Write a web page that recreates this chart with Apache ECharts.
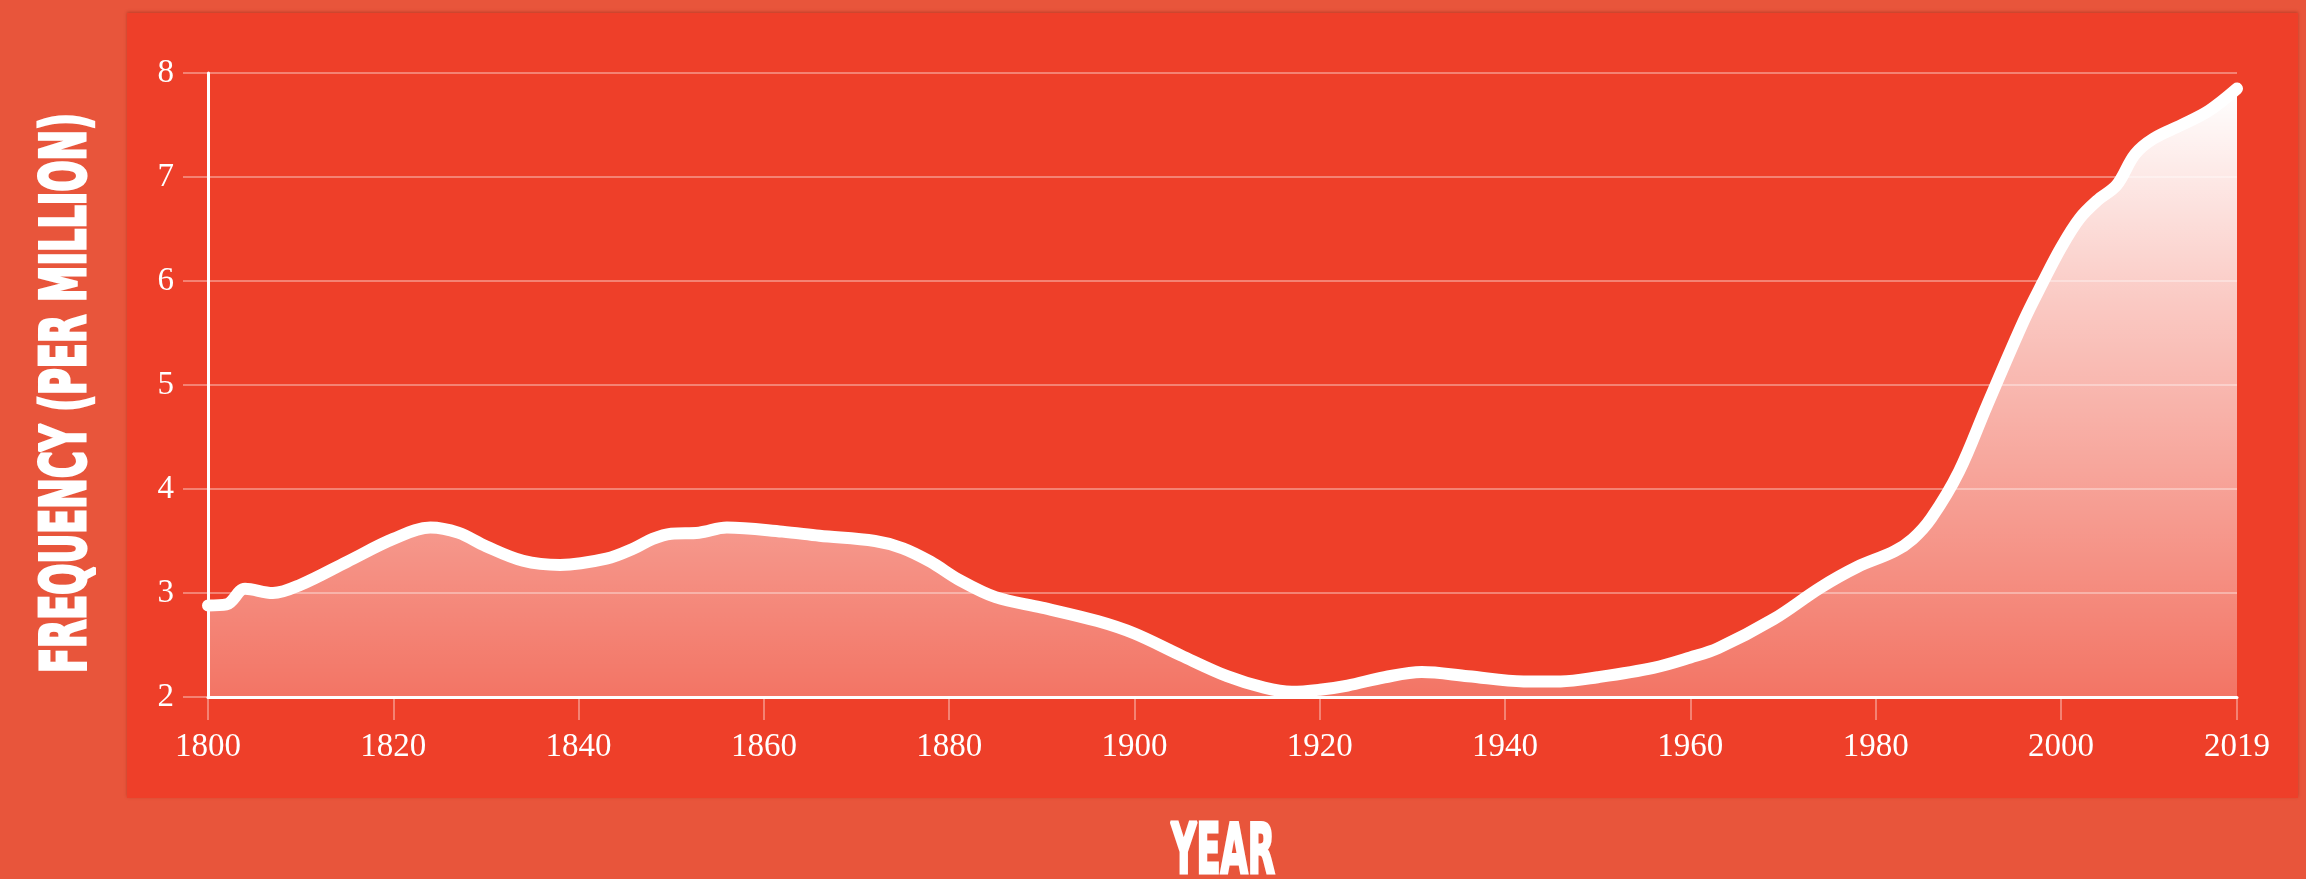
<!DOCTYPE html>
<html>
<head>
<meta charset="utf-8">
<style>
  html, body { margin: 0; padding: 0; background: #e8553b; }
  #chart-container { width: 2306px; height: 879px; }
</style>
<script src="https://cdn.jsdelivr.net/npm/echarts@6/dist/echarts.min.js"></script>
</head>
<body>
<div id="chart-container"></div>
<script>
var dom = document.getElementById("chart-container");
var myChart = echarts.init(dom, null, { renderer: "canvas" });

// frequency per million
var years = [1800, 1802, 1804, 1807, 1810, 1815, 1820, 1824, 1827, 1830, 1834, 1838,
  1843, 1846, 1848, 1850, 1853, 1856, 1862, 1866, 1872, 1875, 1878, 1881, 1885,
  1890, 1896, 1900, 1905, 1910, 1914, 1917, 1920, 1923, 1927, 1931, 1936, 1942,
  1946, 1950, 1956, 1960, 1963, 1969, 1974, 1978, 1982, 1984, 1986, 1989, 1992,
  1996, 1998, 2000, 2002, 2004, 2006, 2008, 2010, 2013, 2016, 2019];
var frequency = [2.88, 2.89, 3.04, 3.00, 3.08, 3.30, 3.52, 3.63, 3.58, 3.45, 3.31, 3.27,
  3.33, 3.43, 3.52, 3.57, 3.58, 3.63, 3.59, 3.55, 3.50, 3.43, 3.30, 3.13, 2.96,
  2.86, 2.73, 2.61, 2.40, 2.20, 2.09, 2.05, 2.07, 2.11, 2.19, 2.24, 2.20, 2.15,
  2.15, 2.19, 2.28, 2.38, 2.47, 2.75, 3.05, 3.25, 3.40, 3.52, 3.72, 4.17, 4.80,
  5.62, 5.98, 6.32, 6.60, 6.78, 6.92, 7.22, 7.37, 7.50, 7.64, 7.85];

var yTitle = "FREQUENCY (PER MILLION)";
var xTitle = "YEAR";

var seriesData = years.map(function (y, i) { return [y, frequency[i]]; });

// squeeze a bold sans into a condensed poster look
var yTitleFont = "bold 62px 'DejaVu Sans Condensed', 'DejaVu Sans', sans-serif";
var xTitleFont = "bold 70px 'DejaVu Sans Condensed', 'DejaVu Sans', sans-serif";
function squeeze(text, font, target) {
  var ctx = document.createElement("canvas").getContext("2d");
  ctx.font = font;
  return target / ctx.measureText(text).width;
}

var faint = "rgba(255,255,255,0.35)";
var labelFont = "'Liberation Serif', 'DejaVu Serif', serif";

var option = {
  backgroundColor: "#e8553b",
  animation: false,
  graphic: [
    {
      type: "rect",
      z: -10,
      shape: { x: 127, y: 13, width: 2171, height: 785 },
      style: {
        fill: "#ee3f29",
        shadowBlur: 3,
        shadowColor: "rgba(110,20,0,0.35)",
        shadowOffsetY: -1,
      },
    },
    {
      type: "text",
      x: 69,
      y: 393,
      rotation: Math.PI / 2,
      scaleX: squeeze(yTitle, yTitleFont, 560),
      style: {
        text: yTitle,
        font: yTitleFont,
        fill: "#ffffff",
        stroke: "#ffffff",
        lineWidth: 3,
        align: "center",
        verticalAlign: "middle",
      },
    },
    {
      type: "text",
      x: 1223,
      y: 855,
      scaleX: squeeze(xTitle, xTitleFont, 104),
      style: {
        text: xTitle,
        font: xTitleFont,
        fill: "#ffffff",
        stroke: "#ffffff",
        lineWidth: 3,
        align: "center",
        verticalAlign: "middle",
      },
    },
  ],
  grid: {
    left: 208,
    right: 69,
    top: 73,
    bottom: 182,
    containLabel: false,
  },
  xAxis: {
    type: "value",
    min: 1800,
    max: 2019,
    interval: 20,
    axisLine: { show: true, lineStyle: { color: "#ffffff", width: 3 } },
    axisTick: { show: true, length: 23, lineStyle: { color: faint, width: 2 } },
    splitLine: { show: false },
    axisLabel: {
      color: "#ffffff",
      fontFamily: labelFont,
      fontSize: 33,
      margin: 34,
      showMinLabel: true,
      showMaxLabel: true,
      formatter: function (v) { return String(v); },
    },
  },
  yAxis: {
    type: "value",
    min: 2,
    max: 8,
    interval: 1,
    axisLine: { show: true, lineStyle: { color: "#ffffff", width: 3 } },
    axisTick: { show: true, length: 25, lineStyle: { color: faint, width: 2 } },
    splitLine: { show: true, lineStyle: { color: faint, width: 2 } },
    axisLabel: {
      color: "#ffffff",
      fontFamily: labelFont,
      fontSize: 33,
      margin: 34,
    },
  },
  series: [
    {
      name: "Frequency",
      type: "line",
      data: seriesData,
      smooth: 0.35,
      symbol: "none",
      z: 3,
      lineStyle: { color: "#ffffff", width: 12, cap: "round", join: "round" },
      areaStyle: {
        origin: "start",
        opacity: 1,
        color: new echarts.graphic.LinearGradient(0, 0, 0, 1, [
          { offset: 0, color: "rgba(255,255,255,1)" },
          { offset: 0.35, color: "rgba(255,255,255,0.72)" },
          { offset: 1, color: "rgba(255,255,255,0.28)" },
        ]),
      },
    },
  ],
};

if (option && typeof option === "object") {
  myChart.setOption(option);
}

window.addEventListener("resize", myChart.resize);
</script>
</body>
</html>
